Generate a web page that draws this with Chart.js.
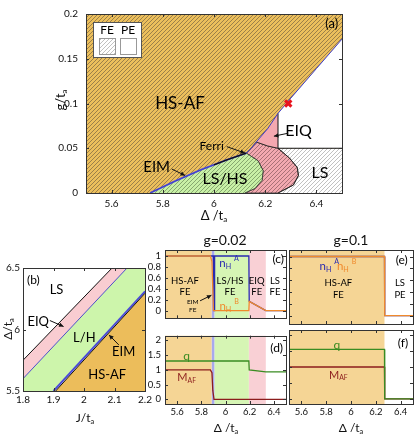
<!DOCTYPE html>
<html>
<head>
<meta charset="utf-8">
<script src="https://cdn.jsdelivr.net/npm/chart.js@4"></script>
<style>
  body { margin: 0; background: #fff; width: 415px; height: 435px; position: relative; overflow: hidden; }
  canvas { position: absolute; }
</style>
</head>
<body>
<canvas id="pa" style="left:0;top:0" width="350" height="225"></canvas>
<canvas id="pb" style="left:0;top:255px" width="155" height="180"></canvas>
<canvas id="pc" style="left:140px;top:228px" width="150" height="100"></canvas>
<canvas id="pe" style="left:285px;top:228px" width="130" height="100"></canvas>
<canvas id="pd" style="left:140px;top:326px" width="150" height="109"></canvas>
<canvas id="pf" style="left:285px;top:326px" width="130" height="109"></canvas>
<script>
// ---- (a) phase diagram g vs Delta
const deltaRange = [5.5, 6.5];
const gRange = [0, 0.2];
const deltaTicks = [5.6, 5.8, 6, 6.2, 6.4];
const gTicks = [0, 0.05, 0.1, 0.15, 0.2];
// HS-AF lower / right boundary
const afEdgeX = [5.75, 5.85, 5.95, 6.05, 6.126, 6.145, 6.165, 6.21, 6.25, 6.3, 6.4, 6.5];
const afEdgeY = [0, 0.0135, 0.026, 0.037, 0.0446, 0.05, 0.057, 0.072, 0.089, 0.106, 0.139, 0.172];
// LS/HS | EIQ boundary
const lshsEdgeX = [6.126, 6.172, 6.192, 6.188, 6.16, 6.12];
const lshsEdgeY = [0.0446, 0.036, 0.025, 0.0143, 0.005, 0];
// EIQ FE | EIQ PE
const eiqTopX = [6.165, 6.21, 6.25];
const eiqTopY = [0.057, 0.0525, 0.05];
// EIQ | LS boundary
const eiqEdgeX = [6.25, 6.295, 6.325, 6.33, 6.31, 6.25];
const eiqEdgeY = [0.05, 0.039, 0.0286, 0.0196, 0.0089, 0];
const feLimit = 0.05;
// Ferri strip
const ferriX = [6.0, 6.05, 6.126];
const ferriY = [0.0315, 0.037, 0.0446];
const critX = [6.29];
const critY = [0.1];

// ---- (b) phase diagram Delta vs J
const jRange = [1.8, 2.2];
const jTicks = [1.8, 1.9, 2, 2.1, 2.2];
const deltaTicksB = [5.5, 6, 6.5];
const lsEdgeJ = [1.8, 2.092], lsEdgeD = [5.75, 6.5];
const eiqEdgeJ = [1.8, 2.141], eiqEdgeD = [5.6, 6.5];
const eimEdgeJ = [1.9, 2.2], eimEdgeD = [5.5, 6.31];
const hsafEdgeJ = [1.907, 2.2], hsafEdgeD = [5.5, 6.295];

// ---- (c)-(f) cuts at g=0.02 and g=0.1
const nTicks = [0, 0.2, 0.4, 0.6, 0.8, 1];
const qTicks = [0, 0.5, 1, 1.5, 2];
const bands002 = [5.5, 5.885, 5.908, 6.193, 6.333, 6.5];
const bands01 = [5.5, 6.27, 6.5];
const nhaX002 = [5.5, 5.9, 5.906, 5.91, 6.193, 6.196, 6.333, 6.5];
const nhaY002 = [1, 1, 0, 1, 1, 0.17, 0, 0];
const nhbX002 = [5.5, 5.875, 5.888, 5.9, 6.193, 6.196, 6.333, 6.5];
const nhbY002 = [1, 1, 0.9, 0, 0, 0.17, 0, 0];
const qX002 = [5.5, 6.193, 6.196, 6.333, 6.5];
const qY002 = [1.3, 1.3, 1.0, 0.93, 0.93];
const mafX002 = [5.5, 5.875, 5.888, 5.895, 5.905, 6.5];
const mafY002 = [1, 1, 0.9, 0.3, 0, 0];
const stepX01 = [5.5, 6.27, 6.272, 6.5];
const nhY01 = [1, 1, 0, 0];
const qY01 = [1.55, 1.55, 0, 0];
const mafY01 = [1, 1, 0, 0];

const F = 'Lato, "Liberation Sans", sans-serif';
const pts = (xs, ys) => xs.map((x, i) => ({x, y: ys[i]}));
const rev = a => a.slice().reverse();

function hatch(bg, fg) {
  const s = 4, c = document.createElement('canvas');
  c.width = s; c.height = s;
  const g = c.getContext('2d');
  g.fillStyle = bg; g.fillRect(0, 0, s, s);
  g.strokeStyle = fg; g.lineWidth = 0.7;
  g.beginPath();
  g.moveTo(0, s); g.lineTo(s, 0);
  g.moveTo(-1, 1); g.lineTo(1, -1);
  g.moveTo(s - 1, s + 1); g.lineTo(s + 1, s - 1);
  g.stroke();
  return g.createPattern(c, 'repeat');
}

function region(data, fillStyle, order, bc, bw) {
  return {data, backgroundColor: fillStyle, fill: 'shape', borderColor: bc || 'rgba(0,0,0,0)',
    borderWidth: bw || 0, pointRadius: 0, tension: 0, order};
}
function curve(data, color, width, order) {
  return {data, borderColor: color, borderWidth: width, fill: false, pointRadius: 0, tension: 0, order};
}
function bandSets(edges, colors) {
  return colors.map((c, i) => region(pts([edges[i], edges[i + 1], edges[i + 1], edges[i]], [-5, -5, 5, 5]), c, 50 + i));
}

function axis(range, ticks, o) {
  return {
    type: 'linear', min: range[0], max: range[1],
    grid: {display: false, drawTicks: false},
    border: {display: false},
    afterBuildTicks: s => { s.ticks = ticks.map(v => ({value: v})); },
    ticks: {display: !!o.labels, padding: o.pad || 0, color: '#111', maxRotation: 0, autoSkip: false,
      font: {family: F, size: o.size || 10}, callback: v => String(Math.round(v * 1000) / 1000)},
    afterFit: s => { if (s.isHorizontal()) s.height = o.fit; else s.width = o.fit; }
  };
}

function drawRich(ctx, parts, x, y, size, color) {
  const segs = (Array.isArray(parts) ? parts : [parts]).map(p => typeof p === 'string'
    ? {t: p, s: size, dy: 0}
    : {t: p[0], s: size * 0.62, dy: p[1] < 0 ? size * 0.3 : -size * 0.4});
  let w = 0;
  segs.forEach(s => { ctx.font = s.s + 'px ' + F; s.w = ctx.measureText(s.t).width; w += s.w; });
  let cx = x - w / 2;
  ctx.fillStyle = color; ctx.textBaseline = 'middle'; ctx.textAlign = 'left';
  segs.forEach(s => { ctx.font = s.s + 'px ' + F; ctx.fillText(s.t, cx, y + s.dy); cx += s.w; });
}

function arrow(ctx, x1, y1, x2, y2) {
  const a = Math.atan2(y2 - y1, x2 - x1);
  ctx.beginPath(); ctx.moveTo(x1, y1); ctx.lineTo(x2, y2); ctx.stroke();
  ctx.beginPath(); ctx.moveTo(x2, y2);
  ctx.lineTo(x2 - 5 * Math.cos(a - 0.45), y2 - 5 * Math.sin(a - 0.45));
  ctx.lineTo(x2 - 5 * Math.cos(a + 0.45), y2 - 5 * Math.sin(a + 0.45));
  ctx.closePath(); ctx.fill();
}

// notes: [text, x, y, size, color] in data coords; arrows in data coords; titles in canvas px
function notes(items, arrows, titles, extra) {
  return {
    id: 'notes',
    afterDraw(chart) {
      const {ctx, scales: {x, y}} = chart;
      ctx.save();
      // frame with inward ticks
      const a = chart.chartArea;
      ctx.strokeStyle = '#333'; ctx.lineWidth = 1;
      ctx.beginPath();
      x.ticks.forEach(t => {
        const p = Math.round(x.getPixelForValue(t.value)) + 0.5;
        ctx.moveTo(p, a.bottom); ctx.lineTo(p, a.bottom - 3);
        ctx.moveTo(p, a.top); ctx.lineTo(p, a.top + 3);
      });
      y.ticks.forEach(t => {
        const p = Math.round(y.getPixelForValue(t.value)) + 0.5;
        ctx.moveTo(a.left, p); ctx.lineTo(a.left + 3, p);
        ctx.moveTo(a.right, p); ctx.lineTo(a.right - 3, p);
      });
      ctx.stroke();
      ctx.strokeRect(Math.round(a.left) + 0.5, Math.round(a.top) + 0.5, Math.round(a.width), Math.round(a.height));
      (items || []).forEach(n => drawRich(ctx, n[0], x.getPixelForValue(n[1]), y.getPixelForValue(n[2]), n[3], n[4] || '#000'));
      ctx.strokeStyle = '#111'; ctx.fillStyle = '#111'; ctx.lineWidth = 1;
      (arrows || []).forEach(r => arrow(ctx, x.getPixelForValue(r[0]), y.getPixelForValue(r[1]), x.getPixelForValue(r[2]), y.getPixelForValue(r[3])));
      (titles || []).forEach(t => {
        ctx.save();
        ctx.translate(t[1], t[2]);
        if (t[4]) ctx.rotate(-Math.PI / 2);
        drawRich(ctx, t[0], 0, 0, t[3], '#111');
        ctx.restore();
      });
      if (extra) extra(ctx, a);
      ctx.restore();
    }
  };
}

function makeChart(id, datasets, xs, ys, pad, plugin) {
  return new Chart(document.getElementById(id), {
    type: 'line',
    data: {datasets},
    options: {
      responsive: false, animation: false, devicePixelRatio: 1,
      layout: {padding: pad},
      plugins: {legend: {display: false}, tooltip: {enabled: false}},
      scales: {x: xs, y: ys}
    },
    plugins: [plugin]
  });
}

// ---------- (a)
const hsafFill = hatch('#ecbf5c', '#7a6440');
const greenFill = hatch('#c8f0a6', '#6a8858');
const pinkFill = hatch('#f3a9b0', '#86595e');
const lsFill = hatch('#ffffff', '#a6a6a6');

const hsafRect = pts([deltaRange[0], deltaRange[1], deltaRange[1], deltaRange[0]], [gRange[0], gRange[0], gRange[1], gRange[1]]);
const lshsPoly = pts(afEdgeX.slice(0, 5), afEdgeY.slice(0, 5)).concat(pts(lshsEdgeX.slice(1), lshsEdgeY.slice(1)));
const eiqFePoly = pts(afEdgeX.slice(4, 7), afEdgeY.slice(4, 7))
  .concat(pts(eiqTopX.slice(1), eiqTopY.slice(1)))
  .concat(pts(eiqEdgeX.slice(1), eiqEdgeY.slice(1)))
  .concat(pts(rev(lshsEdgeX), rev(lshsEdgeY)));
const eiqPePoly = pts(afEdgeX.slice(6, 9), afEdgeY.slice(6, 9)).concat(pts(rev(eiqTopX), rev(eiqTopY)));
const lsFePoly = pts(eiqEdgeX, eiqEdgeY).concat(pts([deltaRange[1], deltaRange[1]], [0, feLimit]));
const lsPePoly = pts([eiqEdgeX[0], deltaRange[1]], [feLimit, feLimit]).concat(pts(rev(afEdgeX.slice(8)), rev(afEdgeY.slice(8))));
// phase lines drawn on top of the regions
const feLine = pts([eiqEdgeX[0], deltaRange[1]], [feLimit, feLimit]);
const peLine = pts([eiqEdgeX[0], afEdgeX[8]], [feLimit, afEdgeY[8]]);

const legendBox = (ctx, a) => {
  const x0 = a.left + 7, y0 = a.top + 8;
  ctx.fillStyle = '#fff'; ctx.fillRect(x0, y0, 48, 35);
  ctx.strokeStyle = '#555'; ctx.lineWidth = 1; ctx.strokeRect(x0 + 0.5, y0 + 0.5, 48, 35);
  drawRich(ctx, 'FE', x0 + 14, y0 + 8.5, 12, '#000');
  drawRich(ctx, 'PE', x0 + 35, y0 + 8.5, 12, '#000');
  ctx.fillStyle = lsFill; ctx.fillRect(x0 + 6, y0 + 16, 16, 16);
  ctx.strokeStyle = '#999'; ctx.strokeRect(x0 + 6.5, y0 + 16.5, 16, 16);
  ctx.strokeRect(x0 + 27.5, y0 + 16.5, 16, 16);
};

makeChart('pa', [
  region(hsafRect, hsafFill, 20),
  region(lsPePoly, '#ffffff', 19),
  region(lsFePoly, lsFill, 18),
  region(eiqFePoly, pinkFill, 17, '#333', 0.8),
  region(eiqPePoly, '#f3a8b0', 16),
  region(lshsPoly, greenFill, 15, '#333', 0.8),
  curve(pts(eiqEdgeX, eiqEdgeY), '#222', 0.9, 15),
  curve(feLine, '#111', 1, 14),
  curve(peLine, '#111', 1, 14),
  curve(pts(eiqTopX, eiqTopY), '#222', 0.9, 14),
  curve(pts(afEdgeX.slice(0, 5), afEdgeY.slice(0, 5)), '#6262dc', 1.9, 14),
  curve(pts(afEdgeX, afEdgeY), '#3c3cc8', 1, 13),
  curve(pts(ferriX, ferriY), '#111', 1.3, 12),
  {data: pts(critX, critY), showLine: false, pointStyle: 'crossRot', pointRadius: 4.5,
    pointBorderWidth: 3, pointBorderColor: '#e8141e', borderColor: '#e8141e', order: 1}
], axis(deltaRange, deltaTicks, {labels: true, pad: 5, size: 10, fit: 32}),
   axis(gRange, gTicks, {labels: true, pad: 8, size: 10, fit: 86}),
   {top: 7, right: 8, left: 0, bottom: 0},
   notes([
     ['HS-AF', 5.867, 0.1, 17], ['EIQ', 6.33, 0.069, 16], ['LS', 6.414, 0.0225, 16],
     ['LS/HS', 6.043, 0.016, 16], ['EIM', 5.776, 0.0285, 15], ['Ferri', 5.991, 0.0528, 12],
     ['(a)', 6.46, 0.189, 13]
   ], [[5.835, 0.0268, 5.887, 0.0196], [6.05, 0.0518, 6.121, 0.0446], [6.29, 0.0668, 6.234, 0.0635]],
   [[['g/t', ['a', -1]], 61, 100, 13, true], [['\u0394 /t', ['a', -1]], 214, 216, 13]], legendBox));

// ---------- (b)
makeChart('pb', [
  region(pts([eiqEdgeJ[0], eiqEdgeJ[1], lsEdgeJ[1], lsEdgeJ[0]], [eiqEdgeD[0], eiqEdgeD[1], lsEdgeD[1], lsEdgeD[0]]), '#f9ccd1', 10),
  region(pts([jRange[0], eimEdgeJ[0], eimEdgeJ[1], jRange[1], eiqEdgeJ[1], eiqEdgeJ[0]],
             [deltaTicksB[0], eimEdgeD[0], eimEdgeD[1], deltaTicksB[2], eiqEdgeD[1], eiqEdgeD[0]]), '#cdf5ab', 9),
  region(pts([hsafEdgeJ[0], jRange[1], hsafEdgeJ[1]], [hsafEdgeD[0], deltaTicksB[0], hsafEdgeD[1]]), '#ecbd5b', 8),
  curve(pts(lsEdgeJ, lsEdgeD), '#111', 1, 5),
  curve(pts(eiqEdgeJ, eiqEdgeD), '#3c3cc8', 0.9, 4),
  curve(pts(eimEdgeJ, eimEdgeD), '#4a4ad8', 1.9, 3),
  curve(pts(hsafEdgeJ, hsafEdgeD), '#111', 1, 2)
], axis(jRange, jTicks, {labels: true, pad: 3, size: 10, fit: 44}),
   axis([deltaTicksB[0], deltaTicksB[2]], deltaTicksB, {labels: true, pad: 3, size: 10, fit: 23}),
   {top: 13, right: 8, left: 0, bottom: 0},
   notes([
     ['(b)', 1.834, 6.405, 12], ['LS', 1.91, 6.323, 13], ['EIQ', 1.85, 6.065, 13],
     ['L/H', 2.001, 5.929, 13], ['EIM', 2.13, 5.82, 13], ['HS-AF', 2.076, 5.63, 13]
   ], [[1.888, 6.073, 1.933, 6.024], [2.114, 5.875, 2.082, 5.956]],
   [[['\u0394/t', ['a', -1]], 8, 74, 12, true], [['J/t', ['a', -1]], 85, 163, 12]]));

// ---------- (c)-(f)
const colors002 = ['#f5d595', '#a8a8ee', '#d6f5b4', '#f9d0d5', '#ffffff'];
const colors01 = ['#f5d595', '#ffffff'];
const nRange = [-0.14, 1.11];
const qRange = [-0.16, 2.16];
const nhA = '#2a2ab0', nhB = '#f08a2c', qC = '#3a8c22', mC = '#8c1c1c';
const nA = ['n', ['H', -1], ' ', ['A', 1]];
const nB = ['n', ['H', -1], ' ', ['B', 1]];
const mAF = ['M', ['AF', -1]];

makeChart('pc', bandSets(bands002, colors002).concat([
  curve(pts(nhaX002, nhaY002), nhA, 1.3, 3),
  curve(pts(nhbX002, nhbY002), nhB, 1.3, 2)
]), axis(deltaRange, deltaTicks, {fit: 4}), axis(nRange, nTicks, {labels: true, pad: 4, size: 9.5, fit: 25}),
   {top: 22, right: 4, left: 0, bottom: 0},
   notes([
     ['HS-AF', 5.665, 0.55, 9.5], ['FE', 5.665, 0.35, 9.5], ['LS/HS', 6.037, 0.55, 9.5], ['FE', 6.037, 0.35, 9.5],
     ['EIQ', 6.258, 0.55, 9.5], ['FE', 6.258, 0.35, 9.5], ['LS', 6.409, 0.55, 9.5], ['FE', 6.409, 0.35, 9.5],
     ['EIM', 5.729, 0.164, 6.5], ['FE', 5.729, 0.02, 6.5], [nA, 6.03, 0.87, 11.5, nhA], [nB, 6.03, 0.08, 11.5, nhB],
     ['(c)', 6.436, 0.944, 12]
   ], [[5.79, 0.18, 5.884, 0.283]], [['g=0.02', 85, 12, 14]]));

makeChart('pe', bandSets(bands01, colors01).concat([
  curve(pts(stepX01, nhY01), nhA, 1.3, 3),
  curve(pts(stepX01, nhY01), nhB, 1.3, 2)
]), axis(deltaRange, deltaTicks, {fit: 4}), axis(nRange, nTicks, {fit: 4}),
   {top: 22, right: 2, left: 0, bottom: 0},
   notes([
     [nA, 5.825, 0.84, 11.5, nhA], [nB, 5.965, 0.84, 11.5, nhB],
     ['HS-AF', 5.898, 0.55, 9.5], ['FE', 5.898, 0.35, 9.5], ['LS', 6.395, 0.55, 9.5], ['PE', 6.395, 0.35, 9.5],
     ['(e)', 6.409, 0.944, 12]
   ], [], [['g=0.1', 66, 12, 14]]));

makeChart('pd', bandSets(bands002, colors002).concat([
  curve(pts(qX002, qY002), qC, 1.3, 3),
  curve(pts(mafX002, mafY002), mC, 1.3, 2)
]), axis(deltaRange, deltaTicks, {labels: true, pad: 2, size: 9.5, fit: 31}), axis(qRange, qTicks, {labels: true, pad: 4, size: 9.5, fit: 25}),
   {top: 4, right: 4, left: 0, bottom: 0},
   notes([
     ['q', 5.679, 1.46, 12, qC], [mAF, 5.679, 0.75, 11, mC], ['(d)', 6.423, 1.74, 12]
   ], [], [[['\u0394 /t', ['a', -1]], 86, 102, 12]]));

makeChart('pf', bandSets(bands01, colors01).concat([
  curve(pts(stepX01, mafY01), mC, 1.3, 3),
  curve(pts(stepX01, qY01), qC, 1.3, 2)
]), axis(deltaRange, deltaTicks, {labels: true, pad: 2, size: 9.5, fit: 31}), axis(qRange, qTicks, {fit: 4}),
   {top: 4, right: 2, left: 0, bottom: 0},
   notes([
     ['q', 5.885, 1.69, 12, qC], [mAF, 5.898, 0.75, 11, mC], ['(f)', 6.42, 1.74, 12]
   ], [], [[['\u0394 /t', ['a', -1]], 66, 102, 12]]));
</script>
</body>
</html>
